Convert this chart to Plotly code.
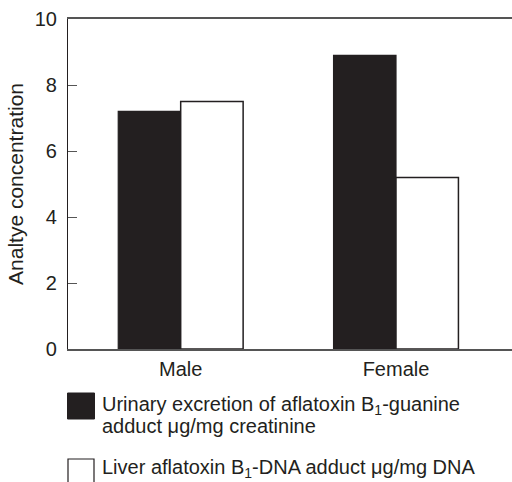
import plotly.graph_objects as go

categories = ["Male", "Female"]
urinary = [7.2, 8.9]
liver = [7.5, 5.2]
series_names = [
    "Urinary excretion of aflatoxin B<sub>1</sub>-guanine",
    "adduct μg/mg creatinine",
    "Liver aflatoxin B<sub>1</sub>-DNA adduct μg/mg DNA",
]
y_ticks = [0, 2, 4, 6, 8, 10]

INK = "#231f20"
FONT = "Liberation Sans, Arial, sans-serif"

W, H = 512, 482
L, R, T, B = 68, 0, 19, 133
PW, PH = W - L - R, H - T - B

def px(x):
    return (x - L) / PW

def py(y):
    return (H - B - y) / PH

fig = go.Figure()
fig.add_bar(x=categories, y=urinary, name="urinary",
            marker=dict(color=INK, line=dict(color=INK, width=1.2)))
fig.add_bar(x=categories, y=liver, name="liver",
            marker=dict(color="white", line=dict(color=INK, width=1.5)))

fig.update_layout(
    width=W, height=H,
    margin=dict(l=L, r=R, t=T, b=B, pad=0, autoexpand=False),
    paper_bgcolor="white", plot_bgcolor="white",
    barmode="group", bargap=0.42, bargroupgap=0,
    showlegend=False,
    font=dict(family=FONT, size=20, color=INK),
)
fig.update_xaxes(
    range=[-0.5234, 1.5388], showline=True, linecolor="#555", linewidth=1.5,
    mirror=True, ticks="", showgrid=False, zeroline=False, automargin=False,
    tickfont=dict(size=20, color=INK), ticklabelstandoff=1,
)
fig.update_yaxes(
    range=[0, 10], tickvals=y_ticks, showline=True, linecolor=INK, linewidth=1.2,
    ticks="inside", ticklen=9, tickcolor="#555", tickwidth=1.2,
    showgrid=False, zeroline=False, automargin=False,
    tickfont=dict(size=20, color=INK), ticklabelstandoff=6,
    title=dict(text="Analtye concentration", font=dict(size=21, color=INK), standoff=5),
)

# custom legend
fig.add_shape(type="rect", xref="paper", yref="paper",
              x0=px(67.5), x1=px(94.5), y0=py(393), y1=py(419),
              fillcolor=INK, line=dict(color=INK, width=1))
fig.add_shape(type="rect", xref="paper", yref="paper",
              x0=px(68), x1=px(94), y0=py(459), y1=py(486),
              fillcolor="white", line=dict(color=INK, width=1.2))
for name, yc in zip(series_names, [405, 426, 468]):
    fig.add_annotation(xref="paper", yref="paper", x=px(100), y=py(yc),
                       xanchor="left", yanchor="middle", showarrow=False,
                       text=name, font=dict(size=20, color=INK))

fig.write_html("out.html", config={"displayModeBar": False},
               post_script="document.body.style.margin='0';document.body.style.overflow='hidden';")
